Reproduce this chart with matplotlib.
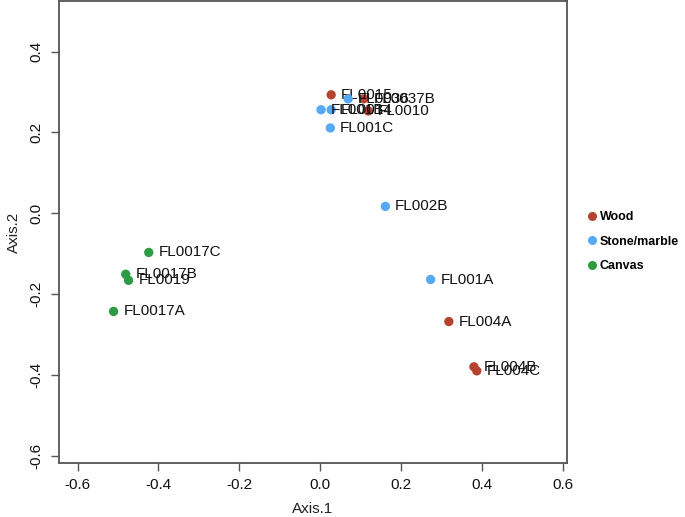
import matplotlib
matplotlib.use("Agg")
import matplotlib.pyplot as plt
from matplotlib.lines import Line2D

plt.rcParams["font.family"] = ["Liberation Sans", "DejaVu Sans"]

# PCoA coordinates
wood_names = ["FL0015", "FL0037B", "FL0010", "FL004A", "FL004B", "FL004C"]
wood_x = [0.027, 0.107, 0.119, 0.318, 0.380, 0.387]
wood_y = [0.293, 0.283, 0.253, -0.268, -0.380, -0.390]

stone_names = ["FL0036", "FL001B", "FL0014", "FL001C", "FL002B", "FL001A"]
stone_x = [0.069, 0.002, 0.027, 0.025, 0.161, 0.273]
stone_y = [0.283, 0.256, 0.256, 0.211, 0.017, -0.164]

canvas_names = ["FL0017C", "FL0017B", "FL0019", "FL0017A"]
canvas_x = [-0.424, -0.481, -0.474, -0.511]
canvas_y = [-0.097, -0.151, -0.166, -0.243]

groups = ["Wood", "Stone/marble", "Canvas"]
colors = ["#B5432F", "#55A9F5", "#2E9B45"]

fig = plt.figure(figsize=(6.85, 5.17), dpi=100)
ax = fig.add_axes([0.0861, 0.1044, 0.7416, 0.8936])

series = [
    (wood_names, wood_x, wood_y),
    (stone_names, stone_x, stone_y),
    (canvas_names, canvas_x, canvas_y),
]
for (names, xs, ys), col in zip(series, colors):
    ax.scatter(xs, ys, s=45, color=col, edgecolors="none", zorder=3)
    for n, x, y in zip(names, xs, ys):
        ax.annotate(n, (x, y), xytext=(7, 0), textcoords="offset points",
                    va="center", ha="left", fontsize=11, color="#111111")

ax.set_xlim(-0.646, 0.610)
ax.set_ylim(-0.618, 0.525)
ax.set_xticks([-0.6, -0.4, -0.2, 0.0, 0.2, 0.4, 0.6])
ax.set_yticks([-0.6, -0.4, -0.2, 0.0, 0.2, 0.4])
ax.set_xticklabels(["-0.6", "-0.4", "-0.2", "0.0", "0.2", "0.4", "0.6"])
ax.set_yticklabels(["-0.6", "-0.4", "-0.2", "0.0", "0.2", "0.4"],
                   rotation=90, va="center")
ax.tick_params(direction="out", length=6, width=1, color="#555555",
               labelsize=11, labelcolor="#111111", pad=5)
for sp in ax.spines.values():
    sp.set_color("#555555")
    sp.set_linewidth(1.3)

ax.set_xlabel("Axis.1", fontsize=11, color="#222222", labelpad=7)
ax.set_ylabel("Axis.2", fontsize=11, color="#222222", labelpad=6)

handles = [Line2D([], [], marker="o", linestyle="none", markersize=6.5,
                  markerfacecolor=c, markeredgecolor="none") for c in colors]
leg = fig.legend(handles, groups, loc="upper left",
                 bbox_to_anchor=(0.838, 0.613), frameon=False,
                 handletextpad=0.15, labelspacing=1.0, handlelength=1.0,
                 prop={"weight": "bold", "size": 9})

fig.savefig("out.png", dpi=100)
